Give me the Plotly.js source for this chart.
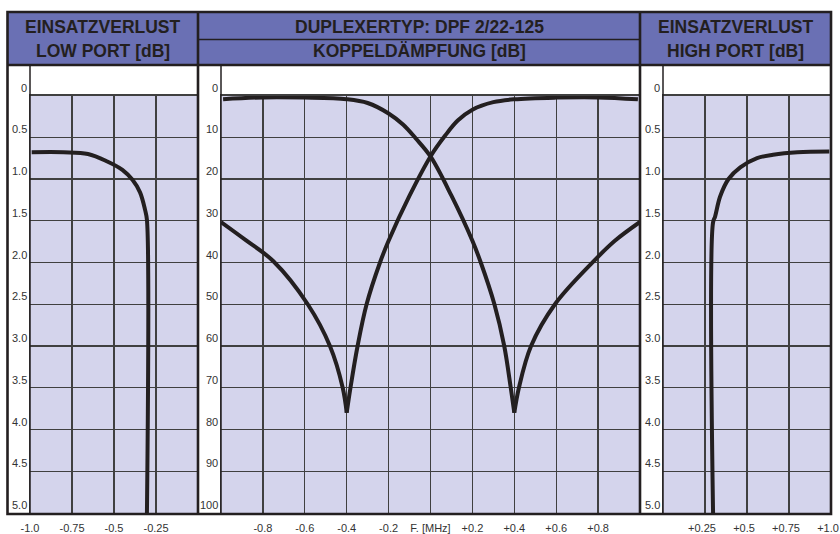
<!DOCTYPE html>
<html>
<head>
<meta charset="utf-8">
<script src="https://cdn.plot.ly/plotly-3.0.1.min.js"></script>
<style>html,body{margin:0;padding:0;background:#fff;}#chart{width:840px;height:534px;}</style>
</head>
<body>
<div id="chart"></div>
<script>
// ---------- DATA ----------
// Header texts
const headerLowTop = "EINSATZVERLUST";
const headerLowBottom = "LOW PORT [dB]";
const headerMidTop = "DUPLEXERTYP: DPF 2/22-125";
const headerMidBottom = "KOPPELDÄMPFUNG [dB]";
const headerHighTop = "EINSATZVERLUST";
const headerHighBottom = "HIGH PORT [dB]";

// Y ticks (insertion loss, dB) and (coupling attenuation, dB)
const lossTickVals = [0, 0.5, 1.0, 1.5, 2.0, 2.5, 3.0, 3.5, 4.0, 4.5, 5.0];
const lossTickText = ["0", "0.5", "1.0", "1.5", "2.0", "2.5", "3.0", "3.5", "4.0", "4.5", "5.0"];
const couplingTickVals = [0, 10, 20, 30, 40, 50, 60, 70, 80, 90, 100];
const couplingTickText = ["0", "10", "20", "30", "40", "50", "60", "70", "80", "90", "100"];

// X ticks (frequency offset, MHz)
const lowXTickVals = [-1.0, -0.75, -0.5, -0.25];
const lowXTickText = ["-1.0", "-0.75", "-0.5", "-0.25"];
const midXTickVals = [-0.8, -0.6, -0.4, -0.2, 0, 0.2, 0.4, 0.6, 0.8];
const midXTickText = ["-0.8", "-0.6", "-0.4", "-0.2", "F. [MHz]", "+0.2", "+0.4", "+0.6", "+0.8"];
const highXTickVals = [0.25, 0.5, 0.75, 1.0];
const highXTickText = ["+0.25", "+0.5", "+0.75", "+1.0"];

// Insertion loss, low port
const lowPortF = [-0.99, -0.80, -0.655, -0.54, -0.45, -0.39, -0.345, -0.315, -0.304, -0.304];
const lowPortLoss = [0.68, 0.68, 0.70, 0.79, 0.89, 1.01, 1.16, 1.37, 1.49, 5.0];

// Insertion loss, high port
const highPortF = [0.99, 0.80, 0.655, 0.56, 0.46, 0.39, 0.34, 0.31, 0.298, 0.298];
const highPortLoss = [0.67, 0.68, 0.71, 0.75, 0.86, 1.0, 1.21, 1.45, 1.52, 5.0];

// Coupling attenuation, curve with notch at -0.4 MHz
const couplingA_leftF = [-1.0, -0.88, -0.75, -0.586, -0.48, -0.419, -0.4];
const couplingA_leftDb = [30.3, 34.7, 39.7, 50.0, 60.0, 70.0, 76.0];
const couplingA_rightF = [-0.4, -0.382, -0.348, -0.305, -0.241, -0.2, -0.1, 0.0, 0.07, 0.13, 0.2, 0.3, 0.4, 0.6, 0.8, 0.99];
const couplingA_rightDb = [76.0, 70.0, 60.0, 50.0, 40.0, 34.8, 24.0, 14.6, 9.6, 6.0, 3.4, 1.6, 0.9, 0.5, 0.45, 0.9];

// Coupling attenuation, curve with notch at +0.4 MHz
const couplingB_leftF = [-0.99, -0.8, -0.6, -0.4, -0.3, -0.2, -0.13, -0.07, 0.0, 0.1, 0.2, 0.24, 0.305, 0.352, 0.383, 0.4];
const couplingB_leftDb = [0.9, 0.45, 0.5, 0.9, 1.8, 4.3, 7.0, 10.3, 14.6, 24.0, 34.8, 40.0, 50.0, 60.0, 70.0, 76.0];
const couplingB_rightF = [0.4, 0.422, 0.48, 0.594, 0.777, 0.88, 1.0];
const couplingB_rightDb = [76.0, 70.0, 60.0, 50.0, 39.8, 34.8, 30.3];

// ---------- LAYOUT HELPERS ----------
const W = 840, H = 534;
const px = x => x / W;
const py = y => 1 - y / H;

const INK = "#231f20";
const GRID = "#404040";
const LAV = "#d4d4ec";
const HEAD = "#6a70b4";
const FONT = "Liberation Sans, Arial, sans-serif";

const gridTop = 95.5, gridBottom = 513;
const yDomain = [py(gridBottom), py(gridTop)];

const curveLine = {color: INK, width: 4, shape: "spline", smoothing: 1};
function curve(x, y, xa, ya) {
  return {x: x, y: y, xaxis: xa, yaxis: ya, type: "scatter", mode: "lines",
          line: curveLine, hoverinfo: "skip", showlegend: false};
}

const traces = [
  curve(lowPortF, lowPortLoss, "x", "y"),
  curve(couplingA_leftF, couplingA_leftDb, "x2", "y2"),
  curve(couplingA_rightF, couplingA_rightDb, "x2", "y2"),
  curve(couplingB_leftF, couplingB_leftDb, "x2", "y2"),
  curve(couplingB_rightF, couplingB_rightDb, "x2", "y2"),
  curve(highPortF, highPortLoss, "x3", "y3")
];

function xAxis(domain, range, vals, text, anchor, shift) {
  return {domain: domain, range: range, anchor: anchor, tickmode: "array",
          tickvals: vals, ticktext: text, ticks: "", showgrid: true,
          gridcolor: GRID, gridwidth: 1.3, zeroline: false, showline: true,
          mirror: true, linecolor: GRID, linewidth: 1.3, fixedrange: true,
          ticklabeloverflow: "allow", ticklabelshift: shift,
          tickfont: {family: FONT, size: 11, color: "#333"}, ticklabelstandoff: 4};
}
function yAxis(range, vals, anchor) {
  return {domain: yDomain, range: range, anchor: anchor, tickmode: "array",
          tickvals: vals, ticks: "", showticklabels: false, showgrid: true,
          gridcolor: GRID, gridwidth: 1.3, zeroline: false, showline: true,
          mirror: true, linecolor: GRID, linewidth: 1.3, fixedrange: true};
}

const layout = {
  width: W, height: H,
  margin: {l: 0, r: 0, t: 0, b: 0},
  paper_bgcolor: "#ffffff",
  plot_bgcolor: LAV,
  showlegend: false,
  xaxis: xAxis([px(30), px(198)], [-1, 0], lowXTickVals, lowXTickText, "y", 0),
  yaxis: yAxis([5, 0], lossTickVals, "x"),
  xaxis2: xAxis([px(221), px(640)], [-1, 1], midXTickVals, midXTickText, "y2", 0),
  yaxis2: yAxis([100, 0], couplingTickVals, "x2"),
  xaxis3: xAxis([px(663), px(831)], [0, 1], highXTickVals, highXTickText, "y3", -3),
  yaxis3: yAxis([5, 0], lossTickVals, "x3"),
  shapes: [],
  annotations: []
};

// Header band
layout.shapes.push({type: "rect", xref: "paper", yref: "paper", x0: px(7.5), x1: px(831), y0: py(65), y1: py(12),
                    fillcolor: HEAD, line: {width: 0}, layer: "below"});
const thin = {color: INK, width: 1.5};
const thick = {color: INK, width: 2.6};
function lineShape(x0, y0, x1, y1, ln) {
  return {type: "line", xref: "paper", yref: "paper", x0: px(x0), x1: px(x1), y0: py(y0), y1: py(y1), line: ln, layer: "above"};
}
layout.shapes.push(lineShape(198, 39.5, 640, 39.5, thin));
[30, 221, 663].forEach(x => layout.shapes.push(lineShape(x, 65, x, 514, thin)));
layout.shapes.push(lineShape(7.5, 65, 831, 65, thick));
[198, 640].forEach(x => layout.shapes.push(lineShape(x, 12, x, 514, thick)));
layout.shapes.push({type: "rect", xref: "paper", yref: "paper", x0: px(7.5), x1: px(831), y0: py(514), y1: py(12),
                    line: thick, fillcolor: "rgba(0,0,0,0)", layer: "above"});

// Header texts
const headFont = {family: FONT, size: 17.5, color: INK};
function headText(x, y, t) {
  return {xref: "paper", yref: "paper", x: px(x), y: py(y), xanchor: "center", yanchor: "middle",
          text: "<b>" + t + "</b>", showarrow: false, font: headFont};
}
layout.annotations.push(headText(103, 27, headerLowTop));
layout.annotations.push(headText(103, 51.5, headerLowBottom));
layout.annotations.push(headText(419, 27, headerMidTop));
layout.annotations.push(headText(419, 51.5, headerMidBottom));
layout.annotations.push(headText(735.5, 27, headerHighTop));
layout.annotations.push(headText(735.5, 51.5, headerHighBottom));

// Y tick labels (sitting on top of each grid line in the white label column)
const tickFont = {family: FONT, size: 11, color: "#333"};
function yLabels(vals, text, sepX, yref) {
  vals.forEach((v, i) => layout.annotations.push({
    xref: "paper", x: px(sepX), xanchor: "right", xshift: -1,
    yref: yref, y: v, yanchor: "bottom", text: text[i], showarrow: false, font: tickFont
  }));
}
yLabels(lossTickVals, lossTickText, 30, "y");
yLabels(couplingTickVals, couplingTickText, 221, "y2");
yLabels(lossTickVals, lossTickText, 663, "y3");

Plotly.newPlot("chart", traces, layout, {displayModeBar: false, staticPlot: true});
</script>
</body>
</html>
